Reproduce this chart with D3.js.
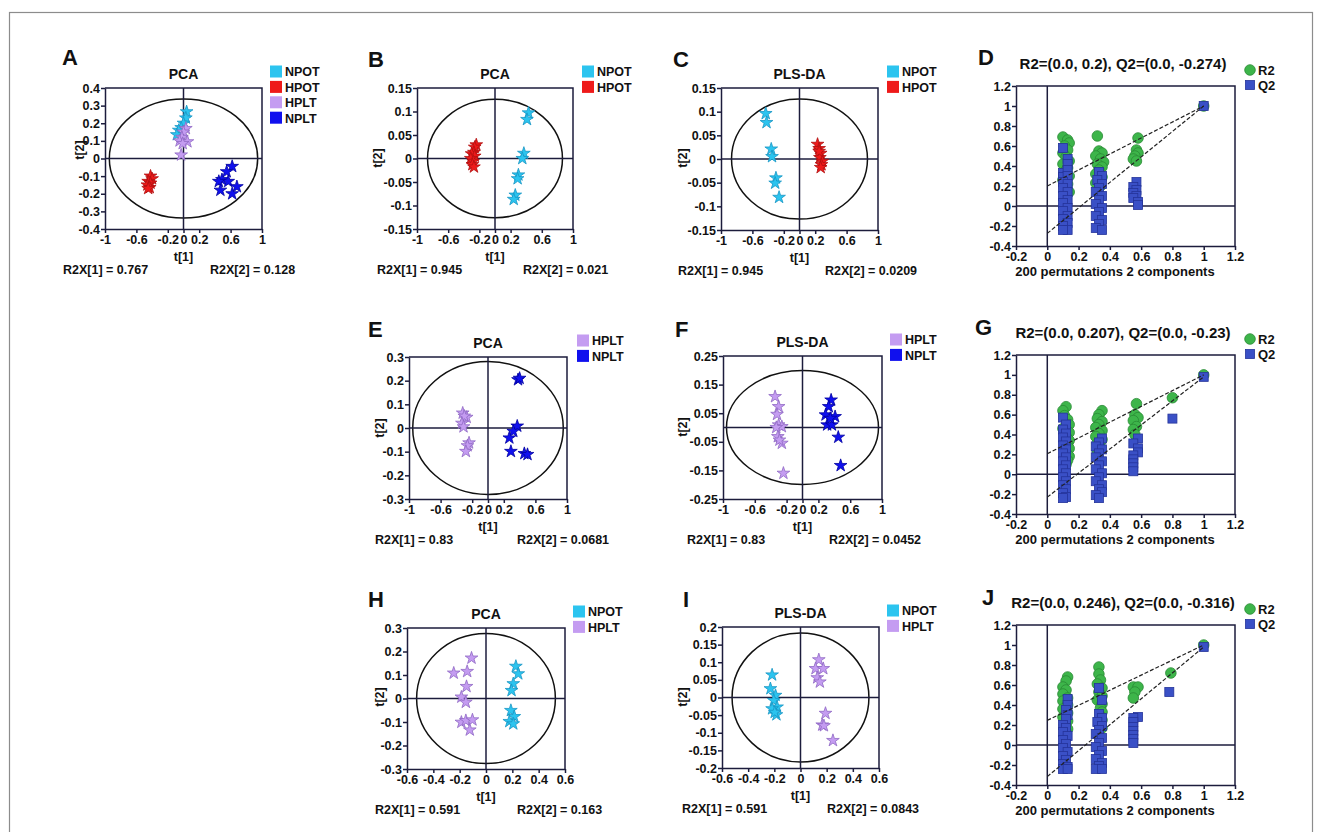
<!DOCTYPE html>
<html lang="en">
<head>
<meta charset="UTF-8">
<title>PCA / PLS-DA score plots</title>
<script src="https://d3js.org/d3.v7.min.js"></script>
<style>
  body { margin: 0; background: #fff; }
  svg text { font-family: "Liberation Sans", Arial, sans-serif; fill: #111; }
  .axis .tick text { font-size: 12.5px; font-weight: bold; fill: #111; }
  .axis path, .axis line { stroke: #1c1c3c; stroke-width: 1.5px; }
  .lbl { font-size: 12.5px; font-weight: bold; }
  .ttl { font-size: 14px; font-weight: bold; }
  .letter { font-size: 22px; font-weight: bold; }
</style>
</head>
<body>
<div id="chart"></div>
<script>
// ---------- data ----------
// score plots: [t1, t2]
const A_NPOT = [[0.04,0.265],[0.03,0.23],[0.0,0.20],[-0.03,0.175],[-0.06,0.16],[-0.085,0.135]];
const A_HPOT = [[-0.42,-0.10],[-0.40,-0.115],[-0.45,-0.13],[-0.42,-0.14],[-0.46,-0.15],[-0.43,-0.165],[-0.45,-0.17]];
const A_HPLT = [[0.03,0.17],[0.0,0.15],[-0.02,0.12],[-0.05,0.10],[0.05,0.095],[-0.01,0.085],[-0.03,0.02]];
const A_NPLT = [[0.62,-0.045],[0.55,-0.075],[0.49,-0.12],[0.57,-0.13],[0.45,-0.13],[0.68,-0.16],[0.62,-0.20],[0.47,-0.18]];

const B_NPOT = [[0.43,0.097],[0.41,0.083],[0.37,0.011],[0.35,0.0],[0.30,-0.035],[0.29,-0.043],[0.26,-0.078],[0.24,-0.087]];
const B_HPOT = [[-0.24,0.029],[-0.26,0.024],[-0.27,0.013],[-0.30,0.01],[-0.26,0.005],[-0.31,0.0],[-0.28,-0.006],[-0.29,-0.013],[-0.27,-0.018]];

const C_NPOT = [[-0.43,0.096],[-0.42,0.077],[-0.36,0.021],[-0.35,0.005],[-0.30,-0.04],[-0.31,-0.051],[-0.26,-0.081]];
const C_HPOT = [[0.23,0.031],[0.25,0.022],[0.27,0.012],[0.26,0.003],[0.29,-0.005],[0.28,-0.012],[0.27,-0.018],[0.25,0.016]];

const E_HPLT = [[-0.32,0.063],[-0.27,0.045],[-0.30,0.05],[-0.33,0.02],[-0.31,0.005],[-0.24,-0.063],[-0.26,-0.075],[-0.28,-0.099]];
const E_NPLT = [[0.38,0.204],[0.40,0.21],[0.37,0.008],[0.32,-0.014],[0.27,-0.042],[0.29,-0.099],[0.46,-0.108],[0.50,-0.112]];

const F_HPLT = [[-0.345,0.108],[-0.30,0.073],[-0.32,0.046],[-0.30,0.009],[-0.26,0.003],[-0.33,0.0],[-0.31,-0.032],[-0.26,-0.055],[-0.29,-0.044],[-0.24,-0.16]];
const F_NPLT = [[0.36,0.096],[0.33,0.073],[0.29,0.044],[0.31,0.009],[0.41,0.038],[0.37,0.009],[0.45,-0.034],[0.48,-0.133],[0.35,0.032]];

const H_NPOT = [[0.227,0.137],[0.245,0.105],[0.207,0.063],[0.194,0.034],[0.189,-0.051],[0.215,-0.077],[0.177,-0.098],[0.207,-0.108]];
const H_HPLT = [[-0.11,0.172],[-0.245,0.108],[-0.143,0.115],[-0.148,0.051],[-0.187,0.006],[-0.153,-0.016],[-0.187,-0.101],[-0.153,-0.094],[-0.103,-0.091],[-0.123,-0.134]];

const I_NPOT = [[-0.217,0.064],[-0.23,0.025],[-0.191,0.006],[-0.204,-0.0085],[-0.179,-0.027],[-0.217,-0.032],[-0.184,-0.049],[-0.197,-0.042]];
const I_HPLT = [[0.14,0.107],[0.115,0.082],[0.174,0.082],[0.128,0.056],[0.148,0.044],[0.191,-0.045],[0.166,-0.078],[0.179,-0.08],[0.248,-0.122]];

// Hotelling ellipse half-axes [t1, t2]
const A_ellipse = [0.945, 0.338];
const B_ellipse = [0.865, 0.126];
const C_ellipse = [0.866, 0.127];
const E_ellipse = [0.953, 0.281];
const F_ellipse = [0.956, 0.199];
const H_ellipse = [0.527, 0.277];
const I_ellipse = [0.523, 0.183];

// explained variance
const A_R2X = [0.767, 0.128];
const B_R2X = [0.945, 0.021];
const C_R2X = [0.945, 0.0209];
const E_R2X = [0.83, 0.0681];
const F_R2X = [0.83, 0.0452];
const H_R2X = [0.591, 0.163];
const I_R2X = [0.591, 0.0843];

// permutation tests: [correlation, value]
const D_R2 = [[0.10,0.69],[0.13,0.66],[0.14,0.63],[0.11,0.60],[0.13,0.56],[0.10,0.53],[0.12,0.49],[0.14,0.45],[0.10,0.42],[0.13,0.38],[0.11,0.34],[0.14,0.30],[0.10,0.26],[0.13,0.22],[0.11,0.18],[0.14,0.14],[0.12,0.10],
  [0.32,0.70],[0.33,0.55],[0.35,0.53],[0.31,0.50],[0.34,0.47],[0.36,0.44],[0.32,0.42],[0.35,0.39],[0.33,0.36],[0.31,0.32],[0.35,0.29],[0.33,0.26],[0.31,0.23],[0.34,0.20],
  [0.58,0.68],[0.57,0.56],[0.58,0.53],[0.56,0.50],[0.55,0.47],[0.57,0.45],[1.0,1.0]];
const D_Q2 = [[0.10,0.58],[0.13,0.47],[0.13,0.42],[0.10,0.33],[0.13,0.36],[0.10,0.29],[0.13,0.30],[0.10,0.24],[0.13,0.22],[0.10,0.18],[0.13,0.14],[0.10,0.10],[0.13,0.06],[0.10,0.03],[0.13,-0.02],[0.10,-0.05],[0.13,-0.10],[0.10,-0.13],[0.13,-0.17],[0.10,-0.20],[0.13,-0.24],[0.10,-0.24],
  [0.33,0.34],[0.35,0.30],[0.32,0.26],[0.35,0.22],[0.33,0.18],[0.31,0.14],[0.35,0.10],[0.33,0.06],[0.31,0.02],[0.35,-0.02],[0.33,-0.06],[0.31,-0.10],[0.35,-0.14],[0.33,-0.18],[0.31,-0.22],[0.35,-0.24],
  [0.57,0.24],[0.55,0.19],[0.57,0.16],[0.55,0.13],[0.57,0.10],[0.55,0.08],[0.58,0.04],[0.58,0.01],[1.0,1.0]];
const D_intercepts = [0.2, -0.274];

const G_R2 = [[0.12,0.68],[0.10,0.64],[0.11,0.59],[0.13,0.55],[0.14,0.50],[0.10,0.46],[0.14,0.42],[0.12,0.38],[0.14,0.34],[0.13,0.30],[0.14,0.26],[0.12,0.22],[0.14,0.18],[0.13,0.14],[0.12,0.10],
  [0.35,0.64],[0.33,0.60],[0.32,0.56],[0.35,0.53],[0.33,0.50],[0.31,0.47],[0.35,0.44],[0.33,0.41],[0.31,0.38],[0.35,0.35],[0.32,0.31],[0.34,0.27],[0.32,0.23],
  [0.57,0.71],[0.56,0.60],[0.58,0.57],[0.55,0.54],[0.57,0.48],[0.55,0.45],[0.56,0.40],[0.80,0.77],[1.0,1.0]];
const G_Q2 = [[0.10,0.57],[0.12,0.50],[0.10,0.45],[0.12,0.41],[0.10,0.37],[0.12,0.33],[0.10,0.29],[0.12,0.25],[0.10,0.21],[0.12,0.17],[0.10,0.13],[0.12,0.09],[0.10,0.05],[0.12,0.01],[0.10,-0.03],[0.12,-0.07],[0.10,-0.11],[0.12,-0.15],[0.10,-0.19],[0.12,-0.23],[0.10,-0.24],
  [0.35,0.36],[0.33,0.32],[0.31,0.28],[0.35,0.25],[0.33,0.21],[0.31,0.17],[0.35,0.13],[0.33,0.09],[0.31,0.05],[0.35,0.01],[0.33,-0.03],[0.31,-0.07],[0.35,-0.11],[0.33,-0.15],[0.35,-0.18],[0.31,-0.21],[0.33,-0.24],
  [0.58,0.36],[0.55,0.31],[0.58,0.26],[0.58,0.22],[0.55,0.19],[0.55,0.15],[0.55,0.11],[0.55,0.07],[0.55,0.03],[0.80,0.56],[1.0,0.98]];
const G_intercepts = [0.207, -0.23];

const J_R2 = [[0.13,0.68],[0.12,0.64],[0.10,0.58],[0.12,0.55],[0.10,0.51],[0.13,0.47],[0.10,0.44],[0.13,0.40],[0.10,0.36],[0.13,0.32],[0.10,0.28],[0.13,0.24],[0.11,0.20],[0.13,0.16],[0.12,0.13],
  [0.33,0.78],[0.33,0.71],[0.34,0.65],[0.32,0.61],[0.35,0.57],[0.33,0.53],[0.35,0.49],[0.32,0.45],[0.35,0.41],[0.34,0.37],[0.35,0.33],[0.34,0.29],[0.35,0.25],[0.34,0.21],[0.35,0.17],
  [0.55,0.58],[0.58,0.58],[0.56,0.53],[0.55,0.47],[0.79,0.72],[1.0,1.0]];
const J_Q2 = [[0.13,0.46],[0.13,0.40],[0.12,0.35],[0.13,0.30],[0.12,0.26],[0.10,0.20],[0.12,0.17],[0.10,0.13],[0.13,0.09],[0.10,0.05],[0.12,0.01],[0.10,-0.03],[0.13,-0.07],[0.10,-0.11],[0.12,-0.15],[0.10,-0.19],[0.13,-0.22],[0.10,-0.24],[0.13,-0.24],
  [0.33,0.57],[0.35,0.45],[0.33,0.31],[0.35,0.27],[0.32,0.23],[0.35,0.19],[0.33,0.15],[0.31,0.11],[0.35,0.07],[0.33,0.02],[0.31,-0.02],[0.35,-0.06],[0.33,-0.10],[0.31,-0.14],[0.35,-0.18],[0.33,-0.21],[0.31,-0.24],[0.35,-0.24],
  [0.58,0.28],[0.55,0.27],[0.55,0.23],[0.55,0.18],[0.55,0.14],[0.55,0.10],[0.55,0.06],[0.55,0.02],[0.78,0.53],[1.0,0.98]];
const J_intercepts = [0.246, -0.316];

// tick values
const ticksT1 = [-1, -0.6, -0.2, 0, 0.2, 0.6, 1];
const ticksT1small = [-0.6, -0.4, -0.2, 0, 0.2, 0.4, 0.6];
const ticks04 = [-0.4, -0.3, -0.2, -0.1, 0, 0.1, 0.2, 0.3, 0.4];
const ticks03 = [-0.3, -0.2, -0.1, 0, 0.1, 0.2, 0.3];
const ticks015 = [-0.15, -0.1, -0.05, 0, 0.05, 0.1, 0.15];
const ticks025 = [-0.25, -0.15, -0.05, 0.05, 0.15, 0.25];
const ticks02 = [-0.2, -0.15, -0.1, -0.05, 0, 0.05, 0.1, 0.15, 0.2];
const permX = [-0.2, 0, 0.2, 0.4, 0.6, 0.8, 1, 1.2];
const permY = [-0.4, -0.2, 0, 0.2, 0.4, 0.6, 0.8, 1, 1.2];

// ---------- styles ----------
const fillC = { NPOT: "#2cc4ef", HPOT: "#ee1a1a", HPLT: "#c49cf1", NPLT: "#1010ee", R2: "#3db54a", Q2: "#3a50c6" };
const edgeC = { NPOT: "#1896c4", HPOT: "#b01010", HPLT: "#8f68c4", NPLT: "#0000a0", R2: "#2a8a35", Q2: "#25349a" };
const ink = "#1c1c3c";

const svg = d3.select("#chart").append("svg").attr("width", 1322).attr("height", 832);

// outer frame of the figure
svg.append("rect").attr("x", 9.5).attr("y", 12.5).attr("width", 1303).attr("height", 830)
  .attr("fill", "none").attr("stroke", "#8c8c8c").attr("stroke-width", 1.2);

const fmt = d => String(d);

function axes(g, x, y, L, xt, yt) {
  g.append("g").attr("class", "axis").attr("transform", `translate(${L.x},0)`)
    .call(d3.axisLeft(y).tickValues(yt).tickFormat(fmt).tickSize(4).tickSizeOuter(0).tickPadding(1));
  g.append("g").attr("class", "axis").attr("transform", `translate(0,${L.y + L.h})`)
    .call(d3.axisBottom(x).tickValues(xt).tickFormat(fmt).tickSize(4).tickSizeOuter(0).tickPadding(2));
  g.append("path").attr("d", `M${L.x},${L.y}H${L.x + L.w}V${L.y + L.h}`)
    .attr("fill", "none").attr("stroke", ink).attr("stroke-width", 1.5);
  // zero lines
  g.append("line").attr("x1", L.x).attr("x2", L.x + L.w).attr("y1", y(0)).attr("y2", y(0))
    .attr("stroke", ink).attr("stroke-width", 1.5);
  g.append("line").attr("x1", x(0)).attr("x2", x(0)).attr("y1", L.y).attr("y2", L.y + L.h)
    .attr("stroke", ink).attr("stroke-width", 1.5);
}

const star = d3.symbol().type(d3.symbolStar).size(50);

function scorePanel(L) {
  const g = svg.append("g");
  const x = d3.scaleLinear().domain([L.xt[0], L.xt[L.xt.length - 1]]).range([L.x, L.x + L.w]);
  const y = d3.scaleLinear().domain([L.yt[0], L.yt[L.yt.length - 1]]).range([L.y + L.h, L.y]);

  g.append("ellipse").attr("cx", x(0)).attr("cy", y(0))
    .attr("rx", x(L.ellipse[0]) - x(0)).attr("ry", y(0) - y(L.ellipse[1]))
    .attr("fill", "none").attr("stroke", "#111").attr("stroke-width", 1.5);
  axes(g, x, y, L, L.xt, L.yt);

  L.series.forEach(s => {
    g.selectAll(null).data(s.data).enter().append("path")
      .attr("d", star)
      .attr("transform", d => `translate(${x(d[0])},${y(d[1])})`)
      .attr("fill", fillC[s.name]).attr("stroke", edgeC[s.name]).attr("stroke-width", 0.8);
  });

  // letter, title, labels
  g.append("text").attr("class", "letter").attr("x", L.letter[0]).attr("y", L.letter[1]).text(L.id);
  g.append("text").attr("class", "ttl").attr("text-anchor", "middle")
    .attr("x", L.x + L.w / 2).attr("y", L.y - 9.5).text(L.title);
  g.append("text").attr("class", "lbl").attr("text-anchor", "middle")
    .attr("x", x(0)).attr("y", L.y + L.h + 32).text("t[1]");
  g.append("text").attr("class", "lbl").attr("text-anchor", "middle")
    .attr("transform", `translate(${L.yl[0]},${L.yl[1]}) rotate(-90)`).attr("dy", "0.35em").text("t[2]");
  g.append("text").attr("class", "lbl").attr("x", L.r2x[0]).attr("y", L.y + L.h + 45)
    .text(`R2X[1] = ${L.R2X[0]}`);
  g.append("text").attr("class", "lbl").attr("x", L.r2x[1]).attr("y", L.y + L.h + 45)
    .text(`R2X[2] = ${L.R2X[1]}`);

  // legend
  const lg = g.append("g").attr("transform", `translate(${L.leg},${L.y - 16})`);
  L.series.forEach((s, i) => {
    lg.append("rect").attr("x", 0).attr("y", i * 15.4 - 6.5).attr("width", 12).attr("height", 12)
      .attr("fill", fillC[s.name]);
    lg.append("text").attr("class", "lbl").attr("x", 15).attr("y", i * 15.4).attr("dy", "0.35em").text(s.name);
  });
}

function permPanel(L) {
  const g = svg.append("g");
  const x = d3.scaleLinear().domain([-0.2, 1.2]).range([L.x, L.x + L.w]);
  const y = d3.scaleLinear().domain([-0.4, 1.2]).range([L.y + L.h, L.y]);
  axes(g, x, y, L, permX, permY);

  g.selectAll(null).data(L.r2).enter().append("circle")
    .attr("cx", d => x(d[0])).attr("cy", d => y(d[1])).attr("r", 5.3)
    .attr("fill", fillC.R2).attr("stroke", edgeC.R2).attr("stroke-width", 0.8);
  g.selectAll(null).data(L.q2).enter().append("rect")
    .attr("x", d => x(d[0]) - 4.5).attr("y", d => y(d[1]) - 4.5).attr("width", 9).attr("height", 9)
    .attr("fill", fillC.Q2).attr("stroke", edgeC.Q2).attr("stroke-width", 0.8);

  // regression lines through intercept and the original model
  [[L.icpt[0], L.r2[L.r2.length - 1]], [L.icpt[1], L.q2[L.q2.length - 1]]].forEach(([b, end]) => {
    g.append("line").attr("x1", x(0)).attr("y1", y(b)).attr("x2", x(end[0])).attr("y2", y(end[1]))
      .attr("stroke", "#222").attr("stroke-width", 1.2).attr("stroke-dasharray", "4,2");
  });

  g.append("text").attr("class", "letter").attr("x", L.letter[0]).attr("y", L.letter[1]).text(L.id);
  g.append("text").attr("text-anchor", "middle").style("font-size", "15px").style("font-weight", "bold")
    .attr("x", 1123).attr("y", L.y - 17.5)
    .text(`R2=(0.0, ${L.icpt[0]}), Q2=(0.0, ${L.icpt[1]})`);
  g.append("text").attr("class", "lbl").style("font-size", "13px").attr("text-anchor", "middle")
    .attr("x", 1115).attr("y", L.y + L.h + 30).text("200 permutations 2 components");

  const ly = L.y - 16;
  g.append("circle").attr("cx", 1250).attr("cy", ly).attr("r", 5.3)
    .attr("fill", fillC.R2).attr("stroke", edgeC.R2).attr("stroke-width", 0.8);
  g.append("text").attr("class", "lbl").style("font-size", "13px").attr("x", 1258).attr("y", ly).attr("dy", "0.35em").text("R2");
  g.append("rect").attr("x", 1245.5).attr("y", ly + 15 - 4.5).attr("width", 9).attr("height", 9)
    .attr("fill", fillC.Q2).attr("stroke", edgeC.Q2).attr("stroke-width", 0.8);
  g.append("text").attr("class", "lbl").style("font-size", "13px").attr("x", 1258).attr("y", ly + 15).attr("dy", "0.35em").text("Q2");
}

// ---------- layout ----------
scorePanel({ id: "A", title: "PCA", x: 105, y: 88, w: 157, h: 141, xt: ticksT1, yt: ticks04, ellipse: A_ellipse, R2X: A_R2X,
  letter: [62, 65], yl: [80, 150], r2x: [63, 210], leg: 270,
  series: [{ name: "NPOT", data: A_NPOT }, { name: "HPOT", data: A_HPOT }, { name: "HPLT", data: A_HPLT }, { name: "NPLT", data: A_NPLT }] });
scorePanel({ id: "B", title: "PCA", x: 417, y: 88, w: 156, h: 141, xt: ticksT1, yt: ticks015, ellipse: B_ellipse, R2X: B_R2X,
  letter: [368, 67], yl: [378, 158], r2x: [377, 523], leg: 582,
  series: [{ name: "NPOT", data: B_NPOT }, { name: "HPOT", data: B_HPOT }] });
scorePanel({ id: "C", title: "PLS-DA", x: 721, y: 88, w: 157, h: 142, xt: ticksT1, yt: ticks015, ellipse: C_ellipse, R2X: C_R2X,
  letter: [673, 67], yl: [683, 158], r2x: [678, 825], leg: 887,
  series: [{ name: "NPOT", data: C_NPOT }, { name: "HPOT", data: C_HPOT }] });
scorePanel({ id: "E", title: "PCA", x: 409, y: 357, w: 158, h: 142, xt: ticksT1, yt: ticks03, ellipse: E_ellipse, R2X: E_R2X,
  letter: [368, 337], yl: [380, 428], r2x: [375, 517], leg: 577,
  series: [{ name: "HPLT", data: E_HPLT }, { name: "NPLT", data: E_NPLT }] });
scorePanel({ id: "F", title: "PLS-DA", x: 723, y: 356, w: 159, h: 143, xt: ticksT1, yt: ticks025, ellipse: F_ellipse, R2X: F_R2X,
  letter: [675, 337], yl: [683, 427], r2x: [687, 829], leg: 890,
  series: [{ name: "HPLT", data: F_HPLT }, { name: "NPLT", data: F_NPLT }] });
scorePanel({ id: "H", title: "PCA", x: 407, y: 628, w: 158, h: 141, xt: ticksT1small, yt: ticks03, ellipse: H_ellipse, R2X: H_R2X,
  letter: [368, 607], yl: [380, 697], r2x: [375, 517], leg: 573,
  series: [{ name: "NPOT", data: H_NPOT }, { name: "HPLT", data: H_HPLT }] });
scorePanel({ id: "I", title: "PLS-DA", x: 722, y: 627, w: 157, h: 141, xt: ticksT1small, yt: ticks02, ellipse: I_ellipse, R2X: I_R2X,
  letter: [683, 607], yl: [683, 697], r2x: [682, 827], leg: 887,
  series: [{ name: "NPOT", data: I_NPOT }, { name: "HPLT", data: I_HPLT }] });

permPanel({ id: "D", x: 1016, y: 86, w: 219, h: 160, r2: D_R2, q2: D_Q2, icpt: D_intercepts, letter: [978, 65] });
permPanel({ id: "G", x: 1016, y: 355, w: 219, h: 159, r2: G_R2, q2: G_Q2, icpt: G_intercepts, letter: [975, 335] });
permPanel({ id: "J", x: 1016, y: 625, w: 219, h: 160, r2: J_R2, q2: J_Q2, icpt: J_intercepts, letter: [982, 605] });
</script>
</body>
</html>
